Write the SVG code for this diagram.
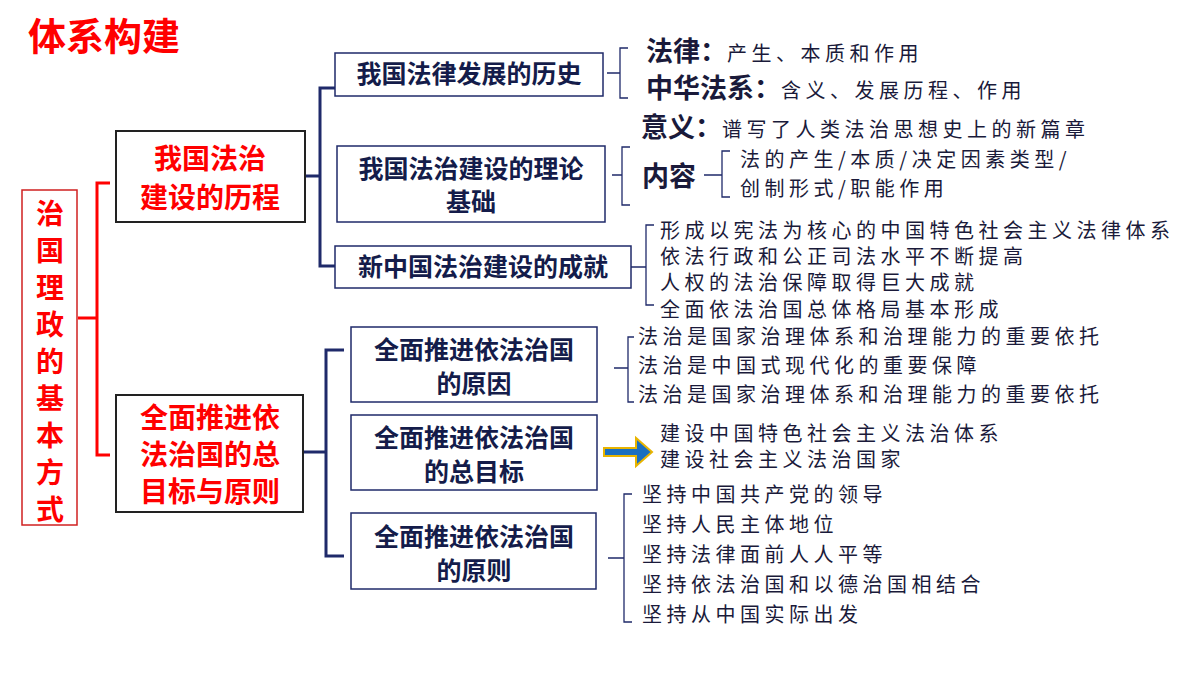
<svg xmlns="http://www.w3.org/2000/svg" width="1200" height="675" viewBox="0 0 1200 675">
<style>
.nb{fill:#fff;stroke:#1f2a6a;stroke-width:1.5}
.nt{font-family:"Noto Sans CJK SC",sans-serif;font-weight:bold;font-size:25px;fill:#141c4a;text-anchor:middle}
.rt{font-family:"Noto Sans CJK SC",sans-serif;font-weight:bold;font-size:28px;fill:#ff0000;text-anchor:middle}
.it{font-family:"Noto Sans CJK SC",sans-serif;font-size:20px;letter-spacing:4.5px;fill:#1a1a3a}
.ib{font-family:"Noto Sans CJK SC",sans-serif;font-size:27px;font-weight:bold;fill:#1a1a3a}
.bn{fill:none;stroke:#1f2a6a;stroke-width:3}
.bt{fill:none;stroke:#1f2a6a;stroke-width:1.3}
.br{fill:none;stroke:#ff0000;stroke-width:3}
</style>
<rect width="1200" height="675" fill="#fff"/>
<text x="28" y="50" font-family="Noto Sans CJK SC,sans-serif" font-weight="bold" font-size="38" fill="#ff0000">体系构建</text>
<g id="root"><rect x="22" y="190" width="55" height="335" fill="#fff" stroke="#d02020" stroke-width="1.5"/>
<text class="rt" font-size="36" x="50"><tspan x="50" y="224">治</tspan><tspan x="50" y="261">国</tspan><tspan x="50" y="298">理</tspan><tspan x="50" y="335">政</tspan><tspan x="50" y="372">的</tspan><tspan x="50" y="409">基</tspan><tspan x="50" y="446">本</tspan><tspan x="50" y="483">方</tspan><tspan x="50" y="520">式</tspan></text></g>
<g id="connectors">
<path class="br" d="M78 318H97M110 183H97V455H110"/>
<path class="bn" d="M305 176H320M335 88H320V266H335"/>
<path class="bn" d="M303 452H326M344 350H326V556H344"/>
<path class="bt" d="M607 73H620M628 48H620V98H628"/>
<path class="bt" d="M612 175H622M630 147H622V205H630"/>
<path class="bt" d="M704 175H722M730 151H722V197H730"/>
<path class="bt" d="M631 267H646M654 225H646V305H654"/>
<path class="bt" d="M614 368H628M634 337H628V402H634"/>
<path class="bt" d="M608 558H624M632 494H624V622H632"/>
<path d="M604 448H636V438L652 452L636 466V456H604Z" fill="#1a6fc0" stroke="#e8b400" stroke-width="2"/>
</g>
<g id="n1"><rect x="116" y="131" width="189" height="91" fill="#fff" stroke="#222" stroke-width="2"/><text class="rt"><tspan x="210" y="169">我国法治</tspan><tspan x="210" y="208">建设的历程</tspan></text></g>
<g id="n2"><rect x="116" y="395" width="187" height="117" fill="#fff" stroke="#222" stroke-width="2"/><text class="rt" font-size="27"><tspan x="210" y="428">全面推进依</tspan><tspan x="210" y="465">法治国的总</tspan><tspan x="210" y="502">目标与原则</tspan></text></g>
<g id="a"><rect class="nb" x="335" y="53" width="268" height="43"/><text class="nt" x="469" y="83">我国法律发展的历史</text></g>
<g id="b"><rect class="nb" x="337" y="146" width="268" height="76"/><text class="nt"><tspan x="471" y="178">我国法治建设的理论</tspan><tspan x="471" y="211">基础</tspan></text></g>
<g id="c"><rect class="nb" x="335" y="246" width="296" height="42"/><text class="nt" x="483" y="276">新中国法治建设的成就</text></g>
<g id="d"><rect class="nb" x="351" y="327" width="246" height="75"/><text class="nt"><tspan x="474" y="359">全面推进依法治国</tspan><tspan x="474" y="393">的原因</tspan></text></g>
<g id="e"><rect class="nb" x="351" y="415" width="246" height="75"/><text class="nt"><tspan x="474" y="447">全面推进依法治国</tspan><tspan x="474" y="481">的总目标</tspan></text></g>
<g id="f"><rect class="nb" x="351" y="513" width="245" height="76"/><text class="nt"><tspan x="474" y="546">全面推进依法治国</tspan><tspan x="474" y="580">的原则</tspan></text></g>
<g id="texts">
<text x="646" y="61"><tspan class="ib">法律：</tspan><tspan class="it">产生、本质和作用</tspan></text>
<text x="646" y="98"><tspan class="ib">中华法系：</tspan><tspan class="it">含义、发展历程、作用</tspan></text>
<text x="641" y="137"><tspan class="ib">意义：</tspan><tspan class="it">谱写了人类法治思想史上的新篇章</tspan></text>
<text class="ib" x="642" y="186" font-size="28">内容</text>
<text class="it" x="740" y="167">法的产生/本质/决定因素类型/</text>
<text class="it" x="740" y="196">创制形式/职能作用</text>
<text class="it" x="660" y="238">形成以宪法为核心的中国特色社会主义法律体系</text>
<text class="it" x="660" y="264">依法行政和公正司法水平不断提高</text>
<text class="it" x="660" y="290">人权的法治保障取得巨大成就</text>
<text class="it" x="660" y="317">全面依法治国总体格局基本形成</text>
<text class="it" x="638" y="344">法治是国家治理体系和治理能力的重要依托</text>
<text class="it" x="638" y="373">法治是中国式现代化的重要保障</text>
<text class="it" x="638" y="402">法治是国家治理体系和治理能力的重要依托</text>
<text class="it" x="660" y="441">建设中国特色社会主义法治体系</text>
<text class="it" x="660" y="467">建设社会主义法治国家</text>
<text class="it" x="642" y="502">坚持中国共产党的领导</text>
<text class="it" x="642" y="532">坚持人民主体地位</text>
<text class="it" x="642" y="562">坚持法律面前人人平等</text>
<text class="it" x="642" y="592">坚持依法治国和以德治国相结合</text>
<text class="it" x="642" y="622">坚持从中国实际出发</text>
</g>
</svg>
